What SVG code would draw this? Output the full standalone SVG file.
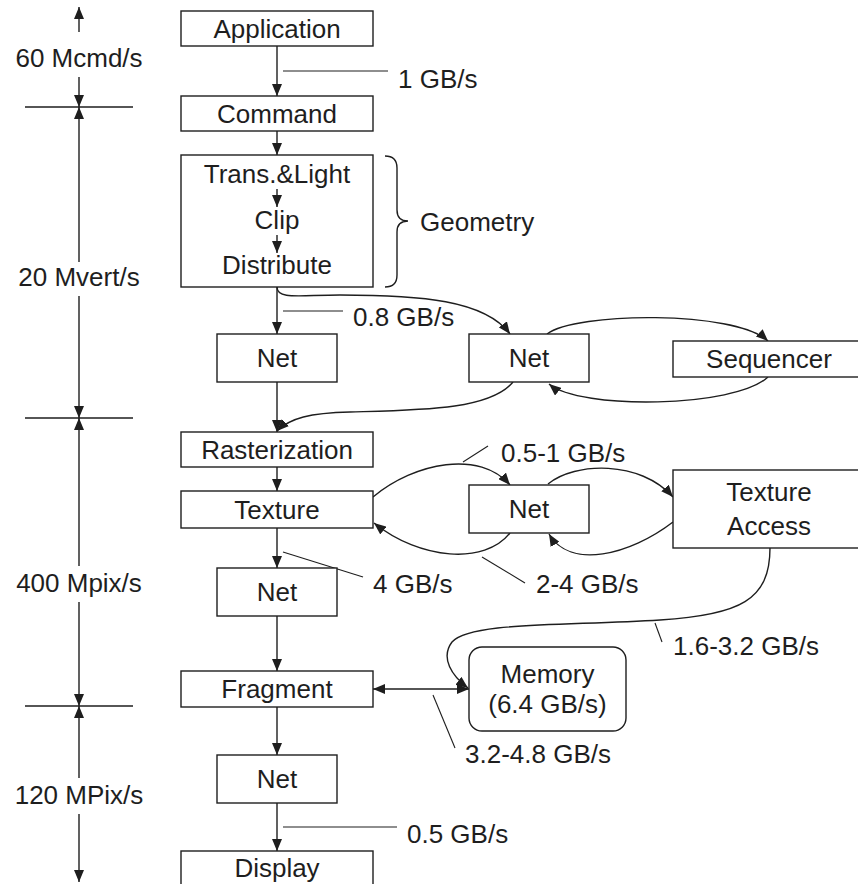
<svg xmlns="http://www.w3.org/2000/svg" width="858" height="884" viewBox="0 0 858 884">
<defs>
<marker id="arr" markerUnits="userSpaceOnUse" markerWidth="12" markerHeight="10" refX="12" refY="5" orient="auto-start-reverse"><path d="M0,0 L12,5 L0,10 z" fill="#1e1e1e"/></marker>
<style>
.box{fill:#fff;stroke:#1e1e1e;stroke-width:1.4}
.t{font-family:"Liberation Sans",Arial,sans-serif;font-size:26px;fill:#1e1e1e}
.c{text-anchor:middle}
.ln{fill:none;stroke:#1e1e1e;stroke-width:1.4}
.ld{fill:none;stroke:#1e1e1e;stroke-width:1.1}
</style>
</defs>
<rect width="858" height="884" fill="#fff"/>
<g id="axis">
<line class="ln" x1="79" y1="32" x2="79" y2="7" marker-end="url(#arr)"/>
<line class="ln" x1="79" y1="77" x2="79" y2="107" marker-end="url(#arr)"/>
<line class="ln" x1="25" y1="107" x2="133" y2="107"/>
<line class="ln" x1="79" y1="262" x2="79" y2="107" marker-end="url(#arr)"/>
<line class="ln" x1="79" y1="296" x2="79" y2="418" marker-end="url(#arr)"/>
<line class="ln" x1="25" y1="418" x2="133" y2="418"/>
<line class="ln" x1="79" y1="566" x2="79" y2="418" marker-end="url(#arr)"/>
<line class="ln" x1="79" y1="602" x2="79" y2="706" marker-end="url(#arr)"/>
<line class="ln" x1="25" y1="706" x2="133" y2="706"/>
<line class="ln" x1="79" y1="778" x2="79" y2="706" marker-end="url(#arr)"/>
<line class="ln" x1="79" y1="814" x2="79" y2="882" marker-end="url(#arr)"/>
<text class="t c" x="79" y="67">60 Mcmd/s</text>
<text class="t c" x="79" y="286">20 Mvert/s</text>
<text class="t c" x="79" y="592">400 Mpix/s</text>
<text class="t c" x="79" y="804">120 MPix/s</text>
</g>
<g id="connectors">
<line class="ln" x1="277" y1="46" x2="277" y2="96" marker-end="url(#arr)"/>
<line class="ld" x1="283" y1="71" x2="388" y2="71"/>
<text class="t" x="398" y="88">1 GB/s</text>
<line class="ln" x1="277" y1="131" x2="277" y2="155" marker-end="url(#arr)"/>
<line class="ln" x1="277" y1="189" x2="277" y2="207" marker-end="url(#arr)"/>
<line class="ln" x1="277" y1="235" x2="277" y2="253" marker-end="url(#arr)"/>
<path class="ln" d="M385,156 Q397,156 397,168 L397,210 Q397,221 408,221 Q397,221 397,232 L397,275 Q397,287 385,287"/>
<text class="t" x="420" y="231">Geometry</text>
<line class="ln" x1="277" y1="287" x2="277" y2="334" marker-end="url(#arr)"/>
<line class="ld" x1="283" y1="311" x2="343" y2="311"/>
<text class="t" x="353" y="326">0.8 GB/s</text>
<path class="ln" d="M277,287 C277,300 300,295 340,295 C420,295 485,300 510,334" marker-end="url(#arr)"/>
<line class="ln" x1="277" y1="382" x2="277" y2="432" marker-end="url(#arr)"/>
<path class="ln" d="M513,382 C490,410 420,410 350,412 C310,413 290,418 277,431" marker-end="url(#arr)"/>
<path class="ln" d="M547,334 C575,312 735,310 768,341" marker-end="url(#arr)"/>
<path class="ln" d="M768,377 C735,408 580,410 549,384" marker-end="url(#arr)"/>
<line class="ln" x1="277" y1="467" x2="277" y2="491" marker-end="url(#arr)"/>
<path class="ln" d="M373,497 C415,462 480,450 510,485" marker-end="url(#arr)"/>
<line class="ld" x1="463" y1="462" x2="488" y2="446"/>
<text class="t" x="501" y="462">0.5-1 GB/s</text>
<path class="ln" d="M510,533 C485,565 420,560 374,523" marker-end="url(#arr)"/>
<line class="ld" x1="482" y1="557" x2="525" y2="583"/>
<text class="t" x="536" y="593">2-4 GB/s</text>
<line class="ld" x1="283" y1="552" x2="363" y2="577"/>
<text class="t" x="373" y="593">4 GB/s</text>
<line class="ln" x1="277" y1="528" x2="277" y2="568" marker-end="url(#arr)"/>
<path class="ln" d="M548,484 C575,462 640,460 673,497" marker-end="url(#arr)"/>
<path class="ln" d="M673,522 C630,555 570,570 549,534" marker-end="url(#arr)"/>
<path class="ln" d="M770,548 C770,600 740,615 660,620 C560,626 470,622 452,642 C440,658 452,676 468,688" marker-end="url(#arr)"/>
<line class="ld" x1="655" y1="623" x2="662" y2="642"/>
<text class="t" x="673" y="655">1.6-3.2 GB/s</text>
<line class="ln" x1="373" y1="689" x2="469" y2="689" marker-start="url(#arr)" marker-end="url(#arr)"/>
<line class="ld" x1="433" y1="695" x2="455" y2="748"/>
<text class="t" x="465" y="763">3.2-4.8 GB/s</text>
<line class="ln" x1="277" y1="616" x2="277" y2="671" marker-end="url(#arr)"/>
<line class="ln" x1="277" y1="707" x2="277" y2="755" marker-end="url(#arr)"/>
<line class="ln" x1="277" y1="803" x2="277" y2="851" marker-end="url(#arr)"/>
<line class="ld" x1="283" y1="827" x2="397" y2="827"/>
<text class="t" x="407" y="843">0.5 GB/s</text>
</g>
<g id="application"><rect class="box" x="181" y="11" width="192" height="35"/><text class="t c" x="277" y="37.5">Application</text></g>
<g id="command"><rect class="box" x="181" y="96" width="192" height="35"/><text class="t c" x="277" y="122.5">Command</text></g>
<g id="geometry"><rect class="box" x="181" y="155" width="192" height="132" style="fill:none"/>
<text class="t c" x="277" y="183">Trans.&amp;Light</text>
<text class="t c" x="277" y="229">Clip</text>
<text class="t c" x="277" y="274">Distribute</text></g>
<g id="net1"><rect class="box" x="217" y="334" width="120" height="48"/><text class="t c" x="277" y="367">Net</text></g>
<g id="net2"><rect class="box" x="469" y="334" width="120" height="48"/><text class="t c" x="529" y="367">Net</text></g>
<g id="sequencer"><rect class="box" x="673" y="341" width="192" height="36"/><text class="t c" x="769" y="368">Sequencer</text></g>
<g id="rasterization"><rect class="box" x="181" y="432" width="192" height="35"/><text class="t c" x="277" y="458.5">Rasterization</text></g>
<g id="texture"><rect class="box" x="181" y="491" width="192" height="37"/><text class="t c" x="277" y="519">Texture</text></g>
<g id="net3"><rect class="box" x="469" y="485" width="120" height="48"/><text class="t c" x="529" y="518">Net</text></g>
<g id="textureaccess"><rect class="box" x="673" y="470" width="192" height="78"/><text class="t c" x="769" y="501">Texture</text><text class="t c" x="769" y="535">Access</text></g>
<g id="net4"><rect class="box" x="217" y="568" width="120" height="48"/><text class="t c" x="277" y="601">Net</text></g>
<g id="fragment"><rect class="box" x="181" y="671" width="192" height="36"/><text class="t c" x="277" y="698">Fragment</text></g>
<g id="memory"><rect class="box" x="469" y="647" width="157" height="84" rx="13"/><text class="t c" x="547.5" y="683">Memory</text><text class="t c" x="547.5" y="713">(6.4 GB/s)</text></g>
<g id="net5"><rect class="box" x="217" y="755" width="120" height="48"/><text class="t c" x="277" y="788">Net</text></g>
<g id="display"><rect class="box" x="181" y="851" width="192" height="40"/><text class="t c" x="277" y="877">Display</text></g>
</svg>
